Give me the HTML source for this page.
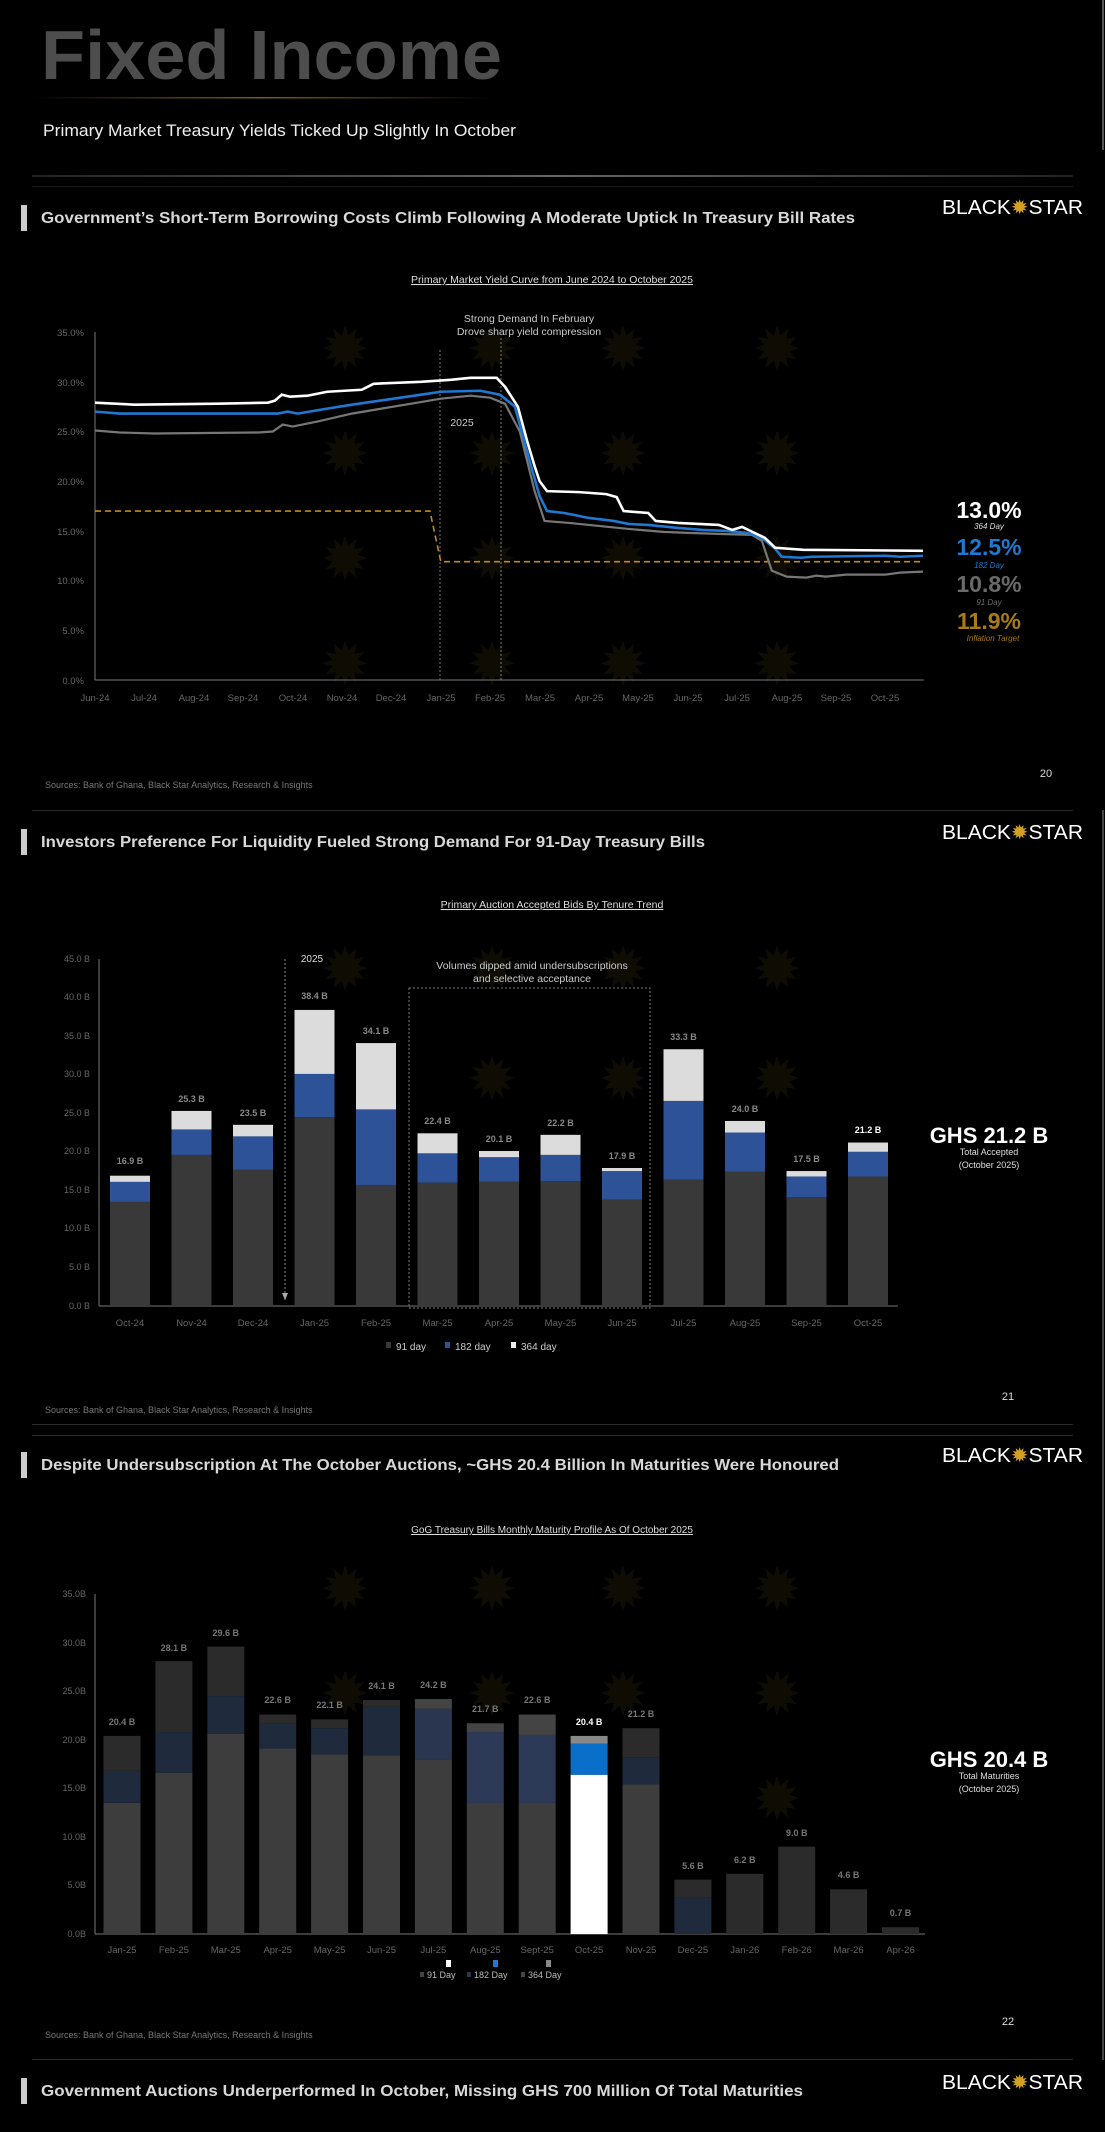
<!DOCTYPE html>
<html><head><meta charset="utf-8"><style>
html,body{margin:0;padding:0;background:#000;}
svg{display:block;}
text{font-family:"Liberation Sans",sans-serif;}
</style></head><body>
<svg width="1105" height="2132" viewBox="0 0 1105 2132" xmlns="http://www.w3.org/2000/svg">
<defs>
<linearGradient id="gl" x1="0" x2="1"><stop offset="0" stop-color="#000"/><stop offset="0.5" stop-color="#7a5a1a"/><stop offset="1" stop-color="#000"/></linearGradient>
<linearGradient id="sl" x1="0" x2="1"><stop offset="0" stop-color="#222"/><stop offset="0.5" stop-color="#666"/><stop offset="1" stop-color="#222"/></linearGradient>
</defs>
<rect width="1105" height="2132" fill="#000"/>
<line x1="1103" y1="0" x2="1103" y2="150" stroke="#555" stroke-width="2"/>
<line x1="1103" y1="810" x2="1103" y2="2060" stroke="#444" stroke-width="2"/>

<!-- watermark stars -->
<g fill="#0f0c04" font-size="60" text-anchor="middle">
<text x="345" y="370">✹</text><text x="492" y="370">✹</text><text x="623" y="370">✹</text><text x="777" y="370">✹</text>
<text x="345" y="475">✹</text><text x="492" y="475">✹</text><text x="623" y="475">✹</text><text x="777" y="475">✹</text>
<text x="345" y="580">✹</text><text x="492" y="580">✹</text><text x="623" y="580">✹</text><text x="777" y="580">✹</text>
<text x="345" y="685">✹</text><text x="492" y="685">✹</text><text x="623" y="685">✹</text><text x="777" y="685">✹</text>
<text x="345" y="990">✹</text><text x="492" y="990">✹</text><text x="623" y="990">✹</text><text x="777" y="990">✹</text>
<text x="492" y="1100">✹</text><text x="623" y="1100">✹</text><text x="777" y="1100">✹</text>
<text x="345" y="1610">✹</text><text x="492" y="1610">✹</text><text x="623" y="1610">✹</text><text x="777" y="1610">✹</text>
<text x="345" y="1715">✹</text><text x="492" y="1715">✹</text><text x="623" y="1715">✹</text><text x="777" y="1715">✹</text>
<text x="777" y="1820">✹</text>
</g>

<!-- header -->
<text x="41" y="79" font-size="70" font-weight="bold" fill="#4d4d4d" textLength="461" lengthAdjust="spacingAndGlyphs">Fixed Income</text>
<rect x="32" y="97" width="462" height="1.5" fill="url(#gl)"/>
<text x="43" y="136" font-size="17" fill="#eee" textLength="473" lengthAdjust="spacingAndGlyphs">Primary Market Treasury Yields Ticked Up Slightly In October</text>
<rect x="32" y="175" width="1041" height="2" fill="url(#sl)"/>
<rect x="32" y="186" width="1041" height="1" fill="#1a1a1a"/>

<!-- Section 1 -->
<rect x="21" y="205" width="6" height="26" fill="#ccc"/>
<text x="41" y="223" font-size="16" font-weight="bold" fill="#d8d8d8" textLength="814" lengthAdjust="spacingAndGlyphs">Government’s Short-Term Borrowing Costs Climb Following A Moderate Uptick In Treasury Bill Rates</text>
<g><text x="942" y="214" font-size="20" fill="#fff" textLength="141" lengthAdjust="spacingAndGlyphs">BLACK<tspan fill="#d4a020">✹</tspan>STAR</text></g>

<text x="552" y="283" font-size="10.5" fill="#ddd" text-anchor="middle" text-decoration="underline">Primary Market Yield Curve from June 2024 to October 2025</text>
<text x="529" y="322" font-size="10.5" fill="#ccc" text-anchor="middle">Strong Demand In February</text>
<text x="529" y="335" font-size="10.5" fill="#ccc" text-anchor="middle">Drove sharp yield compression</text>
<text x="462" y="426" font-size="10.5" fill="#ccc" text-anchor="middle">2025</text>

<g font-size="9.5" fill="#666" text-anchor="end">
<text x="84" y="336">35.0%</text><text x="84" y="386">30.0%</text><text x="84" y="435">25.0%</text><text x="84" y="485">20.0%</text><text x="84" y="535">15.0%</text><text x="84" y="584">10.0%</text><text x="84" y="634">5.0%</text><text x="84" y="684">0.0%</text>
</g>
<line x1="95" y1="332" x2="95" y2="680" stroke="#777" stroke-width="1"/>
<line x1="95" y1="680" x2="924" y2="680" stroke="#777" stroke-width="1"/>
<line x1="440" y1="350" x2="440" y2="680" stroke="#777" stroke-dasharray="2,2"/>
<line x1="501" y1="338" x2="501" y2="680" stroke="#777" stroke-dasharray="2,2"/>
<g font-size="9.5" fill="#666" text-anchor="middle">
<text x="95" y="701">Jun-24</text><text x="144" y="701">Jul-24</text><text x="194" y="701">Aug-24</text><text x="243" y="701">Sep-24</text><text x="293" y="701">Oct-24</text><text x="342" y="701">Nov-24</text><text x="391" y="701">Dec-24</text><text x="441" y="701">Jan-25</text><text x="490" y="701">Feb-25</text><text x="540" y="701">Mar-25</text><text x="589" y="701">Apr-25</text><text x="638" y="701">May-25</text><text x="688" y="701">Jun-25</text><text x="737" y="701">Jul-25</text><text x="787" y="701">Aug-25</text><text x="836" y="701">Sep-25</text><text x="885" y="701">Oct-25</text>
</g>
<g transform="translate(95,680) scale(49.4,-9.94)" fill="none">
<polyline vector-effect="non-scaling-stroke" stroke="#c08a20" stroke-width="1.6" stroke-dasharray="6,4" points="0,17 6.78,17 7.0,11.9 16.76,11.9"/>
<polyline vector-effect="non-scaling-stroke" stroke="#777" stroke-width="2.2" points="0,25.1 0.5,24.9 1.2,24.8 3.3,24.9 3.6,25.0 3.8,25.7 4.0,25.5 4.5,26.0 5.2,26.8 5.8,27.3 6.4,27.8 7.0,28.3 7.6,28.6 8.0,28.4 8.3,27.8 8.6,25 8.9,19 9.1,16 9.6,15.8 10.2,15.5 10.8,15.2 11.5,14.9 12.0,14.8 12.6,14.7 13.3,14.6 13.5,14.0 13.7,11.0 14.0,10.4 14.4,10.3 14.6,10.5 14.8,10.4 15.2,10.6 16.0,10.6 16.3,10.8 16.76,10.9"/>
<polyline vector-effect="non-scaling-stroke" stroke="#1f78d1" stroke-width="2.6" points="0,27.0 0.5,26.8 3.7,26.8 3.9,27.0 4.1,26.8 4.7,27.3 5.2,27.7 5.9,28.2 6.6,28.7 7.0,29.0 7.8,29.1 8.2,28.7 8.5,27.5 8.8,22 9.0,18.5 9.15,17.0 9.5,16.8 10.0,16.3 10.5,16.0 10.8,15.7 11.2,15.6 11.8,15.3 12.3,15.1 12.8,15.0 13.2,14.8 13.5,14.3 13.77,13.2 13.9,12.4 14.3,12.3 14.5,12.4 16.0,12.5 16.3,12.4 16.76,12.5"/>
<polyline vector-effect="non-scaling-stroke" stroke="#fff" stroke-width="2.6" points="0,27.9 0.8,27.7 2.5,27.8 3.5,27.9 3.64,28.1 3.78,28.7 3.95,28.5 4.3,28.6 4.7,29.0 5.4,29.2 5.64,29.8 6.6,30.0 7.2,30.2 7.6,30.4 8.13,30.4 8.3,29.5 8.56,27.5 8.75,24 8.9,21.5 9.0,20 9.15,19.0 9.8,18.9 10.35,18.7 10.56,18.4 10.7,17.0 11.2,16.8 11.35,16.0 11.8,15.8 12.63,15.6 12.9,15.1 13.1,15.4 13.35,14.8 13.56,14.3 13.77,13.3 14.34,13.1 16.76,13.0"/>
</g>
<g text-anchor="middle" font-weight="bold">
<text x="989" y="518" font-size="23" fill="#fff">13.0%</text>
<text x="989" y="529" font-size="8" font-style="italic" font-weight="normal" fill="#ddd">364 Day</text>
<text x="989" y="555" font-size="23" fill="#1f78d1">12.5%</text>
<text x="989" y="568" font-size="8" font-style="italic" font-weight="normal" fill="#1f78d1">182 Day</text>
<text x="989" y="592" font-size="23" fill="#6a6a6a">10.8%</text>
<text x="989" y="605" font-size="8" font-style="italic" font-weight="normal" fill="#6a6a6a">91 Day</text>
<text x="989" y="629" font-size="23" fill="#a87a18">11.9%</text>
<text x="993" y="641" font-size="8" font-style="italic" font-weight="normal" fill="#a87a18">Inflation Target</text>
</g>
<text x="45" y="788" font-size="9" fill="#777">Sources: Bank of Ghana, Black Star Analytics, Research &amp; Insights</text>
<text x="1046" y="777" font-size="11" fill="#ddd" text-anchor="middle">20</text>
<rect x="32" y="810" width="1041" height="1" fill="#2a2a2a"/>

<!-- Section 2 -->
<rect x="21" y="829" width="6" height="26" fill="#ccc"/>
<text x="41" y="847" font-size="16" font-weight="bold" fill="#d8d8d8" textLength="664" lengthAdjust="spacingAndGlyphs">Investors Preference For Liquidity Fueled Strong Demand For 91-Day Treasury Bills</text>
<text x="942" y="839" font-size="20" fill="#fff" textLength="141" lengthAdjust="spacingAndGlyphs">BLACK<tspan fill="#d4a020">✹</tspan>STAR</text>
<text x="552" y="908" font-size="10.5" fill="#ddd" text-anchor="middle" text-decoration="underline">Primary Auction Accepted Bids By Tenure Trend</text>

<g font-size="9" fill="#666" text-anchor="end">
<text x="90" y="962">45.0 B</text><text x="90" y="1000">40.0 B</text><text x="90" y="1039">35.0 B</text><text x="90" y="1077">30.0 B</text><text x="90" y="1116">25.0 B</text><text x="90" y="1154">20.0 B</text><text x="90" y="1193">15.0 B</text><text x="90" y="1231">10.0 B</text><text x="90" y="1270">5.0 B</text><text x="90" y="1309">0.0 B</text>
</g>
<line x1="99" y1="959" x2="99" y2="1306" stroke="#777"/>
<line x1="99" y1="1306" x2="898" y2="1306" stroke="#777"/>
<g transform="translate(0,1306) scale(1,-7.71)">
<g fill="#3a3939">
<rect x="110" y="0" width="40" height="13.5"/><rect x="171.5" y="0" width="40" height="19.6"/><rect x="233" y="0" width="40" height="17.7"/><rect x="294.5" y="0" width="40" height="24.5"/><rect x="356" y="0" width="40" height="15.7"/><rect x="417.5" y="0" width="40" height="16.0"/><rect x="479" y="0" width="40" height="16.1"/><rect x="540.5" y="0" width="40" height="16.2"/><rect x="602" y="0" width="40" height="13.8"/><rect x="663.5" y="0" width="40" height="16.4"/><rect x="725" y="0" width="40" height="17.4"/><rect x="786.5" y="0" width="40" height="14.1"/><rect x="848" y="0" width="40" height="16.8"/>
</g>
<g fill="#2e5298">
<rect x="110" y="13.5" width="40" height="2.6"/><rect x="171.5" y="19.6" width="40" height="3.3"/><rect x="233" y="17.7" width="40" height="4.3"/><rect x="294.5" y="24.5" width="40" height="5.6"/><rect x="356" y="15.7" width="40" height="9.8"/><rect x="417.5" y="16.0" width="40" height="3.8"/><rect x="479" y="16.1" width="40" height="3.2"/><rect x="540.5" y="16.2" width="40" height="3.4"/><rect x="602" y="13.8" width="40" height="3.7"/><rect x="663.5" y="16.4" width="40" height="10.2"/><rect x="725" y="17.4" width="40" height="5.1"/><rect x="786.5" y="14.1" width="40" height="2.7"/><rect x="848" y="16.8" width="40" height="3.2"/>
</g>
<g fill="#dcdcdc">
<rect x="110" y="16.1" width="40" height="0.8"/><rect x="171.5" y="22.9" width="40" height="2.4"/><rect x="233" y="22.0" width="40" height="1.5"/><rect x="294.5" y="30.1" width="40" height="8.3"/><rect x="356" y="25.5" width="40" height="8.6"/><rect x="417.5" y="19.8" width="40" height="2.6"/><rect x="479" y="19.3" width="40" height="0.8"/><rect x="540.5" y="19.6" width="40" height="2.6"/><rect x="602" y="17.5" width="40" height="0.4"/><rect x="663.5" y="26.6" width="40" height="6.7"/><rect x="725" y="22.5" width="40" height="1.5"/><rect x="786.5" y="16.8" width="40" height="0.7"/><rect x="848" y="20.0" width="40" height="1.2"/>
</g>
</g>
<g font-size="9" font-weight="bold" fill="#888" text-anchor="middle">
<text x="130" y="1164">16.9 B</text><text x="191.5" y="1102">25.3 B</text><text x="253" y="1116">23.5 B</text><text x="314.5" y="999">38.4 B</text><text x="376" y="1034">34.1 B</text><text x="437.5" y="1124">22.4 B</text><text x="499" y="1142">20.1 B</text><text x="560.5" y="1126">22.2 B</text><text x="622" y="1159">17.9 B</text><text x="683.5" y="1040">33.3 B</text><text x="745" y="1112">24.0 B</text><text x="806.5" y="1162">17.5 B</text><text x="868" y="1133" fill="#fff">21.2 B</text>
</g>
<line x1="285" y1="959" x2="285" y2="1300" stroke="#888" stroke-dasharray="2,2"/>
<path d="M282,1293 L288,1293 L285,1300 Z" fill="#aaa"/>
<text x="312" y="962" font-size="10" fill="#ddd" text-anchor="middle">2025</text>
<rect x="409" y="988" width="241" height="320" fill="none" stroke="#777" stroke-dasharray="2,2"/>
<text x="532" y="969" font-size="10.5" fill="#ccc" text-anchor="middle">Volumes dipped amid undersubscriptions</text>
<text x="532" y="982" font-size="10.5" fill="#ccc" text-anchor="middle">and selective acceptance</text>
<g font-size="9.5" fill="#666" text-anchor="middle">
<text x="130" y="1326">Oct-24</text><text x="191.5" y="1326">Nov-24</text><text x="253" y="1326">Dec-24</text><text x="314.5" y="1326">Jan-25</text><text x="376" y="1326">Feb-25</text><text x="437.5" y="1326">Mar-25</text><text x="499" y="1326">Apr-25</text><text x="560.5" y="1326">May-25</text><text x="622" y="1326">Jun-25</text><text x="683.5" y="1326">Jul-25</text><text x="745" y="1326">Aug-25</text><text x="806.5" y="1326">Sep-25</text><text x="868" y="1326">Oct-25</text>
</g>
<g font-size="10" fill="#ccc">
<rect x="386" y="1342" width="5" height="6" fill="#3a3939"/><text x="396" y="1350">91 day</text>
<rect x="445" y="1342" width="5" height="6" fill="#2e5298"/><text x="455" y="1350">182 day</text>
<rect x="511" y="1342" width="5" height="6" fill="#eee"/><text x="521" y="1350">364 day</text>
</g>
<text x="989" y="1143" font-size="22" font-weight="bold" fill="#fff" text-anchor="middle">GHS 21.2 B</text>
<text x="989" y="1155" font-size="9" fill="#ddd" text-anchor="middle">Total Accepted</text>
<text x="989" y="1168" font-size="9" fill="#ddd" text-anchor="middle">(October 2025)</text>
<text x="45" y="1413" font-size="9" fill="#777">Sources: Bank of Ghana, Black Star Analytics, Research &amp; Insights</text>
<text x="1008" y="1400" font-size="11" fill="#ddd" text-anchor="middle">21</text>
<rect x="32" y="1424" width="1041" height="1" fill="#2a2a2a"/>
<rect x="32" y="1435" width="1041" height="1" fill="#2a2a2a"/>

<!-- Section 3 -->
<rect x="21" y="1452" width="6" height="26" fill="#ccc"/>
<text x="41" y="1470" font-size="16" font-weight="bold" fill="#d8d8d8" textLength="798" lengthAdjust="spacingAndGlyphs">Despite Undersubscription At The October Auctions, ~GHS 20.4 Billion In Maturities Were Honoured</text>
<text x="942" y="1462" font-size="20" fill="#fff" textLength="141" lengthAdjust="spacingAndGlyphs">BLACK<tspan fill="#d4a020">✹</tspan>STAR</text>
<text x="552" y="1533" font-size="10" fill="#ddd" text-anchor="middle" text-decoration="underline">GoG Treasury Bills Monthly Maturity Profile As Of October 2025</text>

<g font-size="9" fill="#666" text-anchor="end">
<text x="86" y="1597">35.0B</text><text x="86" y="1646">30.0B</text><text x="86" y="1694">25.0B</text><text x="86" y="1743">20.0B</text><text x="86" y="1791">15.0B</text><text x="86" y="1840">10.0B</text><text x="86" y="1888">5.0B</text><text x="86" y="1937">0.0B</text>
</g>
<line x1="95" y1="1594" x2="95" y2="1934" stroke="#777"/>
<line x1="95" y1="1934" x2="925" y2="1934" stroke="#777"/>
<g transform="translate(0,1934) scale(1,-9.71)">
<g fill="#3d3d3d">
<rect x="103.5" y="0" width="37" height="13.5"/><rect x="155.4" y="0" width="37" height="16.6"/><rect x="207.3" y="0" width="37" height="20.6"/><rect x="259.2" y="0" width="37" height="19.1"/><rect x="311.1" y="0" width="37" height="18.5"/><rect x="363" y="0" width="37" height="18.4"/><rect x="414.9" y="0" width="37" height="18.0"/><rect x="466.8" y="0" width="37" height="13.5"/><rect x="518.7" y="0" width="37" height="13.5"/><rect x="570.6" y="0" width="37" height="16.4" fill="#fff"/><rect x="622.5" y="0" width="37" height="15.4"/>
</g>
<g fill="#1f2a3c">
<rect x="103.5" y="13.5" width="37" height="3.3"/><rect x="155.4" y="16.6" width="37" height="4.2"/><rect x="207.3" y="20.6" width="37" height="3.9"/><rect x="259.2" y="19.1" width="37" height="2.6"/><rect x="311.1" y="18.5" width="37" height="2.7"/><rect x="363" y="18.4" width="37" height="5.0"/><rect x="414.9" y="18.0" width="37" height="5.2" fill="#2a3650"/><rect x="466.8" y="13.5" width="37" height="7.3" fill="#2c3a58"/><rect x="518.7" y="13.5" width="37" height="7.0" fill="#2c3a58"/><rect x="570.6" y="16.4" width="37" height="3.2" fill="#0a6fc9"/><rect x="622.5" y="15.4" width="37" height="2.8"/><rect x="674.4" y="0" width="37" height="3.8"/>
</g>
<g fill="#2b2b2b">
<rect x="103.5" y="16.8" width="37" height="3.6"/><rect x="155.4" y="20.8" width="37" height="7.3"/><rect x="207.3" y="24.5" width="37" height="5.1"/><rect x="259.2" y="21.7" width="37" height="0.9"/><rect x="311.1" y="21.2" width="37" height="0.9"/><rect x="363" y="23.4" width="37" height="0.7"/><rect x="414.9" y="23.2" width="37" height="1.0" fill="#444"/><rect x="466.8" y="20.8" width="37" height="0.9" fill="#444"/><rect x="518.7" y="20.5" width="37" height="2.1" fill="#444"/><rect x="570.6" y="19.6" width="37" height="0.8" fill="#888"/><rect x="622.5" y="18.2" width="37" height="3.0"/><rect x="674.4" y="3.8" width="37" height="1.8"/><rect x="726.3" y="0" width="37" height="6.2"/><rect x="778.2" y="0" width="37" height="9.0"/><rect x="830.1" y="0" width="37" height="4.6"/><rect x="882" y="0" width="37" height="0.7"/>
</g>
</g>
<g font-size="9" font-weight="bold" fill="#777" text-anchor="middle">
<text x="122" y="1725">20.4 B</text><text x="173.9" y="1651">28.1 B</text><text x="225.8" y="1636">29.6 B</text><text x="277.7" y="1703">22.6 B</text><text x="329.6" y="1708">22.1 B</text><text x="381.5" y="1689">24.1 B</text><text x="433.4" y="1688">24.2 B</text><text x="485.3" y="1712">21.7 B</text><text x="537.2" y="1703">22.6 B</text><text x="589.1" y="1725" fill="#fff">20.4 B</text><text x="641" y="1717">21.2 B</text><text x="692.9" y="1869">5.6 B</text><text x="744.8" y="1863">6.2 B</text><text x="796.7" y="1836">9.0 B</text><text x="848.6" y="1878">4.6 B</text><text x="900.5" y="1916">0.7 B</text>
</g>
<g font-size="9.5" fill="#666" text-anchor="middle">
<text x="122" y="1953">Jan-25</text><text x="173.9" y="1953">Feb-25</text><text x="225.8" y="1953">Mar-25</text><text x="277.7" y="1953">Apr-25</text><text x="329.6" y="1953">May-25</text><text x="381.5" y="1953">Jun-25</text><text x="433.4" y="1953">Jul-25</text><text x="485.3" y="1953">Aug-25</text><text x="537.2" y="1953">Sept-25</text><text x="589.1" y="1953">Oct-25</text><text x="641" y="1953">Nov-25</text><text x="692.9" y="1953">Dec-25</text><text x="744.8" y="1953">Jan-26</text><text x="796.7" y="1953">Feb-26</text><text x="848.6" y="1953">Mar-26</text><text x="900.5" y="1953">Apr-26</text>
</g>
<rect x="446" y="1960" width="5" height="7" fill="#fff"/>
<rect x="493" y="1960" width="5" height="7" fill="#1f78d1"/>
<rect x="546" y="1960" width="5" height="7" fill="#888"/>
<g font-size="9" fill="#bbb">
<rect x="420" y="1972" width="4" height="5" fill="#444"/><text x="427" y="1978">91 Day</text>
<rect x="467" y="1972" width="4" height="5" fill="#2a3650"/><text x="474" y="1978">182 Day</text>
<rect x="521" y="1972" width="4" height="5" fill="#444"/><text x="528" y="1978">364 Day</text>
</g>
<text x="989" y="1767" font-size="22" font-weight="bold" fill="#fff" text-anchor="middle">GHS 20.4 B</text>
<text x="989" y="1779" font-size="9" fill="#ddd" text-anchor="middle">Total Maturities</text>
<text x="989" y="1792" font-size="9" fill="#ddd" text-anchor="middle">(October 2025)</text>
<text x="45" y="2038" font-size="9" fill="#777">Sources: Bank of Ghana, Black Star Analytics, Research &amp; Insights</text>
<text x="1008" y="2025" font-size="11" fill="#ddd" text-anchor="middle">22</text>
<rect x="32" y="2059" width="1041" height="1" fill="#2a2a2a"/>

<!-- Section 4 -->
<rect x="21" y="2078" width="6" height="26" fill="#ccc"/>
<text x="41" y="2096" font-size="16" font-weight="bold" fill="#d8d8d8" textLength="762" lengthAdjust="spacingAndGlyphs">Government Auctions Underperformed In October, Missing GHS 700  Million Of Total Maturities</text>
<text x="942" y="2089" font-size="20" fill="#fff" textLength="141" lengthAdjust="spacingAndGlyphs">BLACK<tspan fill="#d4a020">✹</tspan>STAR</text>
</svg>
</body></html>
